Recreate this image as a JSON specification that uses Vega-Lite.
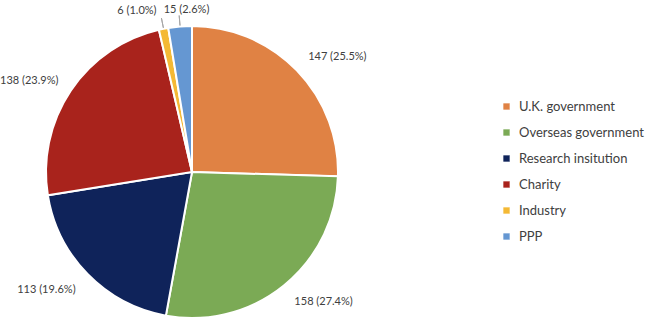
{
  "$schema": "https://vega.github.io/schema/vega-lite/v6.json",
  "width": 384,
  "height": 344,
  "autosize": "none",
  "padding": {"left": 0, "top": 0, "right": 262, "bottom": 0},
  "background": "white",
  "config": {"view": {"stroke": null}, "font": "Lato"},
  "data": {
    "values": [
      {"source": "U.K. government", "count": 147, "label": "147 (25.5%)", "idx": 1},
      {"source": "Overseas government", "count": 158, "label": "158 (27.4%)", "idx": 2},
      {"source": "Research insitution", "count": 113, "label": "113 (19.6%)", "idx": 3},
      {"source": "Charity", "count": 138, "label": "138 (23.9%)", "idx": 4},
      {"source": "Industry", "count": 6, "label": "6 (1.0%)", "idx": 5},
      {"source": "PPP", "count": 15, "label": "15 (2.6%)", "idx": 6}
    ]
  },
  "transform": [
    {"stack": "count", "groupby": [], "sort": [{"field": "idx", "order": "ascending"}], "as": ["s0", "s1"]},
    {"calculate": "(datum.s0 + datum.s1) / 2", "as": "mid"}
  ],
  "layer": [
    {
      "mark": {"type": "arc", "radius": 146, "stroke": "white", "strokeWidth": 2},
      "encoding": {
        "theta": {"field": "s0", "type": "quantitative", "scale": {"domain": [0, 577]}},
        "theta2": {"field": "s1"},
        "color": {
          "field": "source",
          "type": "nominal",
          "scale": {
            "domain": ["U.K. government", "Overseas government", "Research insitution", "Charity", "Industry", "PPP"],
            "range": ["#E08244", "#7BAA55", "#0F235A", "#A9231C", "#F4B935", "#6597D2"]
          },
          "legend": {
            "title": null,
            "orient": "none",
            "legendX": 500,
            "legendY": 100,
            "symbolType": "square",
            "symbolSize": 40,
            "symbolStrokeWidth": 0,
            "labelFontSize": 13,
            "labelColor": "#404040",
            "labelOffset": 6,
            "rowPadding": 12,
            "padding": 0,
            "labelFont": "Lato"
          }
        }
      }
    },
    {
      "transform": [{"filter": "datum.count < 20"}],
      "mark": {"type": "arc", "radius": 157, "radius2": 147, "stroke": "#A6A6A6", "strokeWidth": 1, "fill": null},
      "encoding": {
        "theta": {"field": "mid", "type": "quantitative"},
        "theta2": {"field": "mid"}
      }
    },
    {
      "transform": [{"filter": "datum.source == 'U.K. government'"}],
      "mark": {"type": "text", "radius": 190, "dx": 9, "dy": 17, "fontSize": 11, "color": "#404040"},
      "encoding": {"theta": {"field": "mid", "type": "quantitative"}, "text": {"field": "label"}}
    },
    {
      "transform": [{"filter": "datum.source == 'Overseas government'"}],
      "mark": {"type": "text", "radius": 190, "dx": 12, "dy": -18, "fontSize": 11, "color": "#404040"},
      "encoding": {"theta": {"field": "mid", "type": "quantitative"}, "text": {"field": "label"}}
    },
    {
      "transform": [{"filter": "datum.source == 'Research insitution'"}],
      "mark": {"type": "text", "radius": 190, "dx": -10, "dy": -15, "fontSize": 11, "color": "#404040"},
      "encoding": {"theta": {"field": "mid", "type": "quantitative"}, "text": {"field": "label"}}
    },
    {
      "transform": [{"filter": "datum.source == 'Charity'"}],
      "mark": {"type": "text", "radius": 190, "dx": -5, "dy": 15, "fontSize": 11, "color": "#404040"},
      "encoding": {"theta": {"field": "mid", "type": "quantitative"}, "text": {"field": "label"}}
    },
    {
      "transform": [{"filter": "datum.source == 'Industry'"}],
      "mark": {"type": "text", "radius": 170, "dx": -22, "dy": 6, "fontSize": 11, "color": "#404040"},
      "encoding": {"theta": {"field": "mid", "type": "quantitative"}, "text": {"field": "label"}}
    },
    {
      "transform": [{"filter": "datum.source == 'PPP'"}],
      "mark": {"type": "text", "radius": 165, "dx": 8, "dy": 2, "fontSize": 11, "color": "#404040"},
      "encoding": {"theta": {"field": "mid", "type": "quantitative"}, "text": {"field": "label"}}
    }
  ]
}
